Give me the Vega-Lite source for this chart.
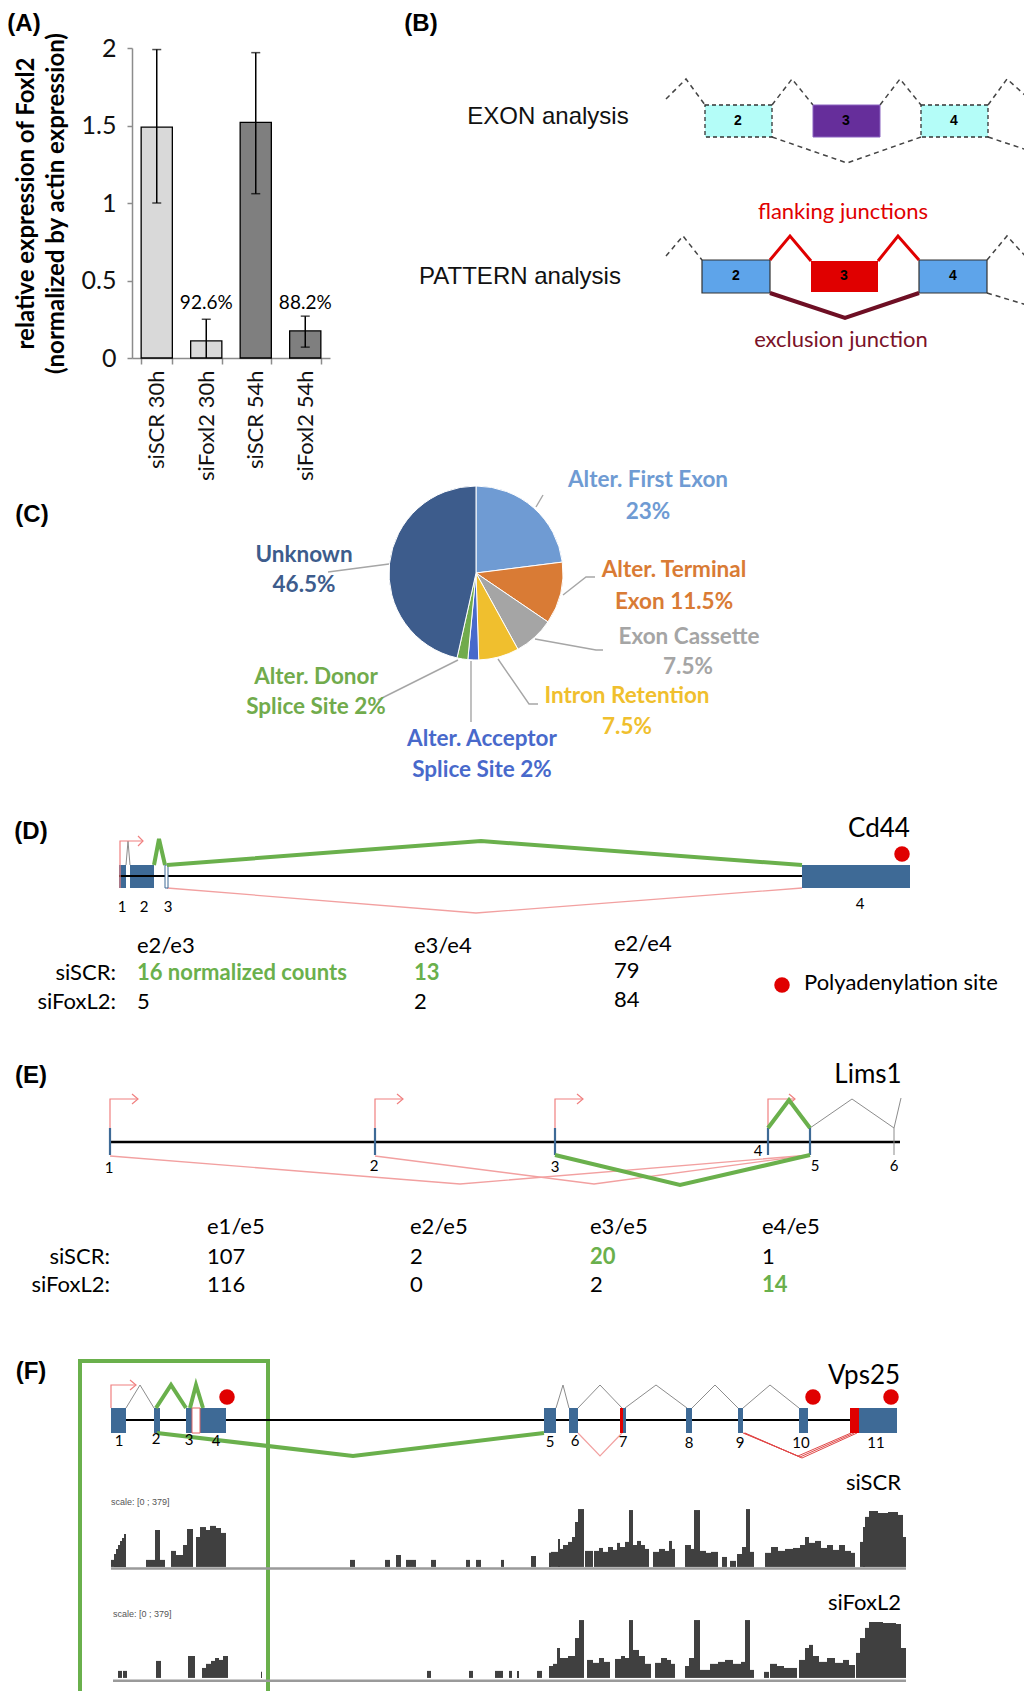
{
"$schema":"https://vega.github.io/schema/vega-lite/v6.json",
"padding":0,
"background":"white",
"spacing":0,
"bounds":"flush",
"resolve":{"scale":{"color":"independent"}},
"config":{"view":{"stroke":null},"text":{"font":"Lato","color":"#000"},
 "axisY":{"titleFont":"Lato","titleFontWeight":"bold","titleFontSize":24,"titleColor":"#000"}},
"datasets":{
"hdr":[{"t":"(A)","x":21,"y":24},{"t":"(B)","x":418,"y":24}],
"A":[
{"cond":"siSCR 30h","time":"30h","value":1.49,"lo":1.0,"hi":1.99,"pct":""},
{"cond":"siFoxl2 30h","time":"30h","value":0.11,"lo":0,"hi":0.25,"pct":"92.6%"},
{"cond":"siSCR 54h","time":"54h","value":1.52,"lo":1.06,"hi":1.97,"pct":""},
{"cond":"siFoxl2 54h","time":"54h","value":0.175,"lo":0.07,"hi":0.27,"pct":"88.2%"}],
"B_rects":[
{"kind":"cyan","x":374,"x2":441,"y":57,"y2":89},
{"kind":"cyan","x":590,"x2":657,"y":57,"y2":89},
{"kind":"purple","x":482,"x2":549,"y":57,"y2":89},
{"kind":"blue","x":371,"x2":439,"y":212,"y2":245},
{"kind":"blue","x":588,"x2":656,"y":212,"y2":245},
{"kind":"red","x":480,"x2":547,"y":213,"y2":244}],
"B_lines":[
{"kind":"dash","seg":"d1","ord":0,"x":335,"y":51},{"kind":"dash","seg":"d1","ord":1,"x":355,"y":31},{"kind":"dash","seg":"d1","ord":2,"x":374,"y":57},
{"kind":"dash","seg":"d2","ord":0,"x":441,"y":57},{"kind":"dash","seg":"d2","ord":1,"x":461,"y":31},{"kind":"dash","seg":"d2","ord":2,"x":482,"y":57},
{"kind":"dash","seg":"d3","ord":0,"x":549,"y":57},{"kind":"dash","seg":"d3","ord":1,"x":569,"y":31},{"kind":"dash","seg":"d3","ord":2,"x":590,"y":57},
{"kind":"dash","seg":"d4","ord":0,"x":657,"y":57},{"kind":"dash","seg":"d4","ord":1,"x":676,"y":31},{"kind":"dash","seg":"d4","ord":2,"x":696,"y":49},
{"kind":"dash","seg":"d5","ord":0,"x":441,"y":89},{"kind":"dash","seg":"d5","ord":1,"x":516,"y":115},{"kind":"dash","seg":"d5","ord":2,"x":590,"y":89},
{"kind":"dash","seg":"d6","ord":0,"x":657,"y":89},{"kind":"dash","seg":"d6","ord":1,"x":696,"y":102},
{"kind":"dash","seg":"d7","ord":0,"x":335,"y":208},{"kind":"dash","seg":"d7","ord":1,"x":352,"y":188},{"kind":"dash","seg":"d7","ord":2,"x":371,"y":212},
{"kind":"dash","seg":"d8","ord":0,"x":656,"y":212},{"kind":"dash","seg":"d8","ord":1,"x":676,"y":188},{"kind":"dash","seg":"d8","ord":2,"x":696,"y":210},
{"kind":"dash","seg":"d9","ord":0,"x":656,"y":245},{"kind":"dash","seg":"d9","ord":1,"x":696,"y":257},
{"kind":"flank","seg":"f1","ord":0,"x":439,"y":212},{"kind":"flank","seg":"f1","ord":1,"x":459,"y":188},{"kind":"flank","seg":"f1","ord":2,"x":480,"y":213},
{"kind":"flank","seg":"f2","ord":0,"x":547,"y":213},{"kind":"flank","seg":"f2","ord":1,"x":567,"y":188},{"kind":"flank","seg":"f2","ord":2,"x":588,"y":212},
{"kind":"excl","seg":"e1","ord":0,"x":439,"y":245},{"kind":"excl","seg":"e1","ord":1,"x":514,"y":270},{"kind":"excl","seg":"e1","ord":2,"x":588,"y":245}],
"B_text":[
{"role":"title","t":"EXON analysis","x":217,"y":69},
{"role":"title","t":"PATTERN analysis","x":189,"y":229},
{"role":"flank","t":"flanking junctions","x":512,"y":164},
{"role":"excl","t":"exclusion junction","x":510,"y":292},
{"role":"num","t":"2","x":407,"y":73},{"role":"num","t":"3","x":515,"y":73},{"role":"num","t":"4","x":623,"y":73},
{"role":"num","t":"2","x":405,"y":228},{"role":"num","t":"3","x":513,"y":228},{"role":"num","t":"4","x":622,"y":228}],
"C_slices":[
{"cat":"Alter. First Exon","pct":23,"i":1},
{"cat":"Alter. Terminal Exon","pct":11.5,"i":2},
{"cat":"Exon Cassette","pct":7.5,"i":3},
{"cat":"Intron Retention","pct":7.5,"i":4},
{"cat":"Alter. Acceptor Splice Site","pct":2,"i":5},
{"cat":"Alter. Donor Splice Site","pct":2,"i":6},
{"cat":"Unknown","pct":46.5,"i":7}],
"C_labels":[
{"cat":"Alter. First Exon","t":"Alter. First Exon","x":172,"y":-93},
{"cat":"Alter. First Exon","t":"23%","x":172,"y":-61},
{"cat":"Alter. Terminal Exon","t":"Alter. Terminal","x":198,"y":-3},
{"cat":"Alter. Terminal Exon","t":"Exon 11.5%","x":198,"y":29},
{"cat":"Exon Cassette","t":"Exon Cassette","x":213,"y":64},
{"cat":"Exon Cassette","t":"7.5%","x":212,"y":94},
{"cat":"Intron Retention","t":"Intron Retention","x":151,"y":123},
{"cat":"Intron Retention","t":"7.5%","x":151,"y":154},
{"cat":"Alter. Acceptor Splice Site","t":"Alter. Acceptor","x":6,"y":166},
{"cat":"Alter. Acceptor Splice Site","t":"Splice Site 2%","x":6,"y":197},
{"cat":"Alter. Donor Splice Site","t":"Alter. Donor","x":-160,"y":104},
{"cat":"Alter. Donor Splice Site","t":"Splice Site 2%","x":-160,"y":134},
{"cat":"Unknown","t":"Unknown","x":-172,"y":-18},
{"cat":"Unknown","t":"46.5%","x":-172,"y":12}],
"C_lines":[
{"seg":"l1","ord":0,"x":60,"y":-66},{"seg":"l1","ord":1,"x":67,"y":-78},
{"seg":"l2","ord":0,"x":87,"y":22},{"seg":"l2","ord":1,"x":110,"y":4},{"seg":"l2","ord":2,"x":119,"y":4},
{"seg":"l3","ord":0,"x":59,"y":66},{"seg":"l3","ord":1,"x":120,"y":77},{"seg":"l3","ord":2,"x":127,"y":77},
{"seg":"l4","ord":0,"x":22,"y":86},{"seg":"l4","ord":1,"x":53,"y":131},{"seg":"l4","ord":2,"x":62,"y":131},
{"seg":"l5","ord":0,"x":-5,"y":88},{"seg":"l5","ord":1,"x":-5,"y":149},
{"seg":"l6","ord":0,"x":-18,"y":87},{"seg":"l6","ord":1,"x":-98,"y":127},
{"seg":"l7","ord":0,"x":-87,"y":-9},{"seg":"l7","ord":1,"x":-148,"y":-1}],
"C_panel":[{"t":"(C)","x":-444,"y":-58}],
"D_rects":[
{"kind":"exon","x":116,"x2":123,"y":77,"y2":100},
{"kind":"exon","x":127,"x2":151,"y":77,"y2":100},
{"kind":"exon","x":799,"x2":907,"y":77,"y2":100},
{"kind":"open","x":162,"x2":165,"y":77,"y2":100}],
"D_lines":[
{"kind":"backbone","seg":"b","ord":0,"x":116,"y":88},{"kind":"backbone","seg":"b","ord":1,"x":799,"y":88},
{"kind":"pink","seg":"p1","ord":0,"x":164,"y":100},{"kind":"pink","seg":"p1","ord":1,"x":473,"y":125},{"kind":"pink","seg":"p1","ord":2,"x":799,"y":100},
{"kind":"gray","seg":"g1","ord":0,"x":123,"y":77},{"kind":"gray","seg":"g1","ord":1,"x":125,"y":53},{"kind":"gray","seg":"g1","ord":2,"x":127,"y":77},
{"kind":"tss","seg":"t1","ord":0,"x":117,"y":100},{"kind":"tss","seg":"t1","ord":1,"x":117,"y":53},{"kind":"tss","seg":"t1","ord":2,"x":140,"y":53},
{"kind":"tss","seg":"t2","ord":0,"x":135,"y":48},{"kind":"tss","seg":"t2","ord":1,"x":140,"y":53},{"kind":"tss","seg":"t2","ord":2,"x":135,"y":58},
{"kind":"green","seg":"j1","ord":0,"x":151,"y":77},{"kind":"green","seg":"j1","ord":1,"x":156,"y":51},{"kind":"green","seg":"j1","ord":2,"x":162,"y":77},
{"kind":"green","seg":"j2","ord":0,"x":164,"y":77},{"kind":"green","seg":"j2","ord":1,"x":478,"y":53},{"kind":"green","seg":"j2","ord":2,"x":799,"y":77}],
"D_dots":[{"x":899,"y":66},{"x":779,"y":197}],
"D_text":[
{"role":"panel","t":"(D)","x":28,"y":44},
{"role":"gene","t":"Cd44","x":876,"y":41},
{"role":"num","t":"1","x":119,"y":119},{"role":"num","t":"2","x":141,"y":119},{"role":"num","t":"3","x":165,"y":119},{"role":"num","t":"4","x":857,"y":116},
{"role":"left","t":"e2/e3","x":134,"y":158},{"role":"left","t":"e3/e4","x":411,"y":158},{"role":"left","t":"e2/e4","x":611,"y":156},
{"role":"right","t":"siSCR:","x":113,"y":185},{"role":"right","t":"siFoxL2:","x":113,"y":214},
{"role":"hi","t":"16 normalized counts","x":134,"y":185},{"role":"hi","t":"13","x":411,"y":185},
{"role":"left","t":"79","x":611,"y":183},
{"role":"left","t":"5","x":134,"y":214},{"role":"left","t":"2","x":411,"y":214},{"role":"left","t":"84","x":611,"y":212},
{"role":"left","t":"Polyadenylation site","x":801,"y":195}],
"E_lines":[
{"kind":"backbone","seg":"b","ord":0,"x":107,"y":102},{"kind":"backbone","seg":"b","ord":1,"x":897,"y":102},
{"kind":"pink","seg":"p1","ord":0,"x":107,"y":116},{"kind":"pink","seg":"p1","ord":1,"x":457,"y":144},{"kind":"pink","seg":"p1","ord":2,"x":807,"y":115},
{"kind":"pink","seg":"p2","ord":0,"x":372,"y":116},{"kind":"pink","seg":"p2","ord":1,"x":591,"y":144},{"kind":"pink","seg":"p2","ord":2,"x":807,"y":115},
{"kind":"tick","seg":"k1","ord":0,"x":107,"y":88},{"kind":"tick","seg":"k1","ord":1,"x":107,"y":115},
{"kind":"tick","seg":"k2","ord":0,"x":372,"y":88},{"kind":"tick","seg":"k2","ord":1,"x":372,"y":115},
{"kind":"tick","seg":"k3","ord":0,"x":552,"y":88},{"kind":"tick","seg":"k3","ord":1,"x":552,"y":115},
{"kind":"tick","seg":"k4","ord":0,"x":765,"y":88},{"kind":"tick","seg":"k4","ord":1,"x":765,"y":115},
{"kind":"tick","seg":"k5","ord":0,"x":807,"y":88},{"kind":"tick","seg":"k5","ord":1,"x":807,"y":115},
{"kind":"gray","seg":"k6","ord":0,"x":891,"y":88},{"kind":"gray","seg":"k6","ord":1,"x":891,"y":115},
{"kind":"gray","seg":"g1","ord":0,"x":807,"y":88},{"kind":"gray","seg":"g1","ord":1,"x":849,"y":59},{"kind":"gray","seg":"g1","ord":2,"x":891,"y":88},
{"kind":"gray","seg":"g2","ord":0,"x":891,"y":88},{"kind":"gray","seg":"g2","ord":1,"x":898,"y":58},
{"kind":"tss","seg":"s1","ord":0,"x":107,"y":88},{"kind":"tss","seg":"s1","ord":1,"x":107,"y":59},{"kind":"tss","seg":"s1","ord":2,"x":135,"y":59},
{"kind":"tss","seg":"h1","ord":0,"x":129,"y":54},{"kind":"tss","seg":"h1","ord":1,"x":135,"y":59},{"kind":"tss","seg":"h1","ord":2,"x":129,"y":64},
{"kind":"tss","seg":"s2","ord":0,"x":372,"y":88},{"kind":"tss","seg":"s2","ord":1,"x":372,"y":59},{"kind":"tss","seg":"s2","ord":2,"x":400,"y":59},
{"kind":"tss","seg":"h2","ord":0,"x":394,"y":54},{"kind":"tss","seg":"h2","ord":1,"x":400,"y":59},{"kind":"tss","seg":"h2","ord":2,"x":394,"y":64},
{"kind":"tss","seg":"s3","ord":0,"x":552,"y":88},{"kind":"tss","seg":"s3","ord":1,"x":552,"y":59},{"kind":"tss","seg":"s3","ord":2,"x":580,"y":59},
{"kind":"tss","seg":"h3","ord":0,"x":574,"y":54},{"kind":"tss","seg":"h3","ord":1,"x":580,"y":59},{"kind":"tss","seg":"h3","ord":2,"x":574,"y":64},
{"kind":"tss","seg":"s4","ord":0,"x":765,"y":88},{"kind":"tss","seg":"s4","ord":1,"x":765,"y":59},{"kind":"tss","seg":"s4","ord":2,"x":792,"y":59},
{"kind":"tss","seg":"h4","ord":0,"x":786,"y":54},{"kind":"tss","seg":"h4","ord":1,"x":792,"y":59},{"kind":"tss","seg":"h4","ord":2,"x":786,"y":64},
{"kind":"green","seg":"j1","ord":0,"x":765,"y":88},{"kind":"green","seg":"j1","ord":1,"x":786,"y":60},{"kind":"green","seg":"j1","ord":2,"x":807,"y":88},
{"kind":"green","seg":"j2","ord":0,"x":552,"y":115},{"kind":"green","seg":"j2","ord":1,"x":677,"y":145},{"kind":"green","seg":"j2","ord":2,"x":807,"y":115}],
"E_text":[
{"role":"panel","t":"(E)","x":28,"y":36},
{"role":"gene","t":"Lims1","x":865,"y":35},
{"role":"num","t":"1","x":106,"y":128},{"role":"num","t":"2","x":371,"y":126},{"role":"num","t":"3","x":552,"y":127},{"role":"num","t":"4","x":755,"y":111},{"role":"num","t":"5","x":812,"y":126},{"role":"num","t":"6","x":891,"y":126},
{"role":"left","t":"e1/e5","x":204,"y":187},{"role":"left","t":"e2/e5","x":407,"y":187},{"role":"left","t":"e3/e5","x":587,"y":187},{"role":"left","t":"e4/e5","x":759,"y":187},
{"role":"right","t":"siSCR:","x":107,"y":217},{"role":"right","t":"siFoxL2:","x":107,"y":245},
{"role":"left","t":"107","x":204,"y":217},{"role":"left","t":"2","x":407,"y":217},{"role":"hi","t":"20","x":587,"y":217},{"role":"left","t":"1","x":759,"y":217},
{"role":"left","t":"116","x":204,"y":245},{"role":"left","t":"0","x":407,"y":245},{"role":"left","t":"2","x":587,"y":245},{"role":"hi","t":"14","x":759,"y":245}],
"F1_rects":[
{"kind":"exon","x":108,"x2":123,"y":108,"y2":133},
{"kind":"exon","x":151,"x2":157,"y":108,"y2":133},
{"kind":"exon","x":183,"x2":189,"y":108,"y2":133},
{"kind":"exon","x":197,"x2":223,"y":108,"y2":133},
{"kind":"exon","x":541,"x2":553,"y":108,"y2":133},
{"kind":"exon","x":566,"x2":575,"y":108,"y2":133},
{"kind":"exon","x":620,"x2":623,"y":108,"y2":133},
{"kind":"exon","x":683,"x2":689,"y":108,"y2":133},
{"kind":"exon","x":735,"x2":740,"y":108,"y2":133},
{"kind":"exon","x":796,"x2":805,"y":108,"y2":133},
{"kind":"exon","x":856,"x2":894,"y":108,"y2":133},
{"kind":"redx","x":617,"x2":620,"y":108,"y2":133},
{"kind":"redx","x":847,"x2":856,"y":108,"y2":133},
{"kind":"open","x":189,"x2":197,"y":108,"y2":133},
{"kind":"box","x":77,"x2":265,"y":61,"y2":200}],
"F1_lines":[
{"kind":"backbone","seg":"b","ord":0,"x":108,"y":120},{"kind":"backbone","seg":"b","ord":1,"x":894,"y":120},
{"kind":"tss","seg":"s1","ord":0,"x":108,"y":108},{"kind":"tss","seg":"s1","ord":1,"x":108,"y":85},{"kind":"tss","seg":"s1","ord":2,"x":133,"y":85},
{"kind":"tss","seg":"h1","ord":0,"x":127,"y":80},{"kind":"tss","seg":"h1","ord":1,"x":133,"y":85},{"kind":"tss","seg":"h1","ord":2,"x":127,"y":90},
{"kind":"gray","seg":"g1","ord":0,"x":123,"y":108},{"kind":"gray","seg":"g1","ord":1,"x":137,"y":85},{"kind":"gray","seg":"g1","ord":2,"x":151,"y":108},
{"kind":"gray","seg":"g2","ord":0,"x":553,"y":108},{"kind":"gray","seg":"g2","ord":1,"x":560,"y":85},{"kind":"gray","seg":"g2","ord":2,"x":566,"y":108},
{"kind":"gray","seg":"g3","ord":0,"x":575,"y":108},{"kind":"gray","seg":"g3","ord":1,"x":597,"y":85},{"kind":"gray","seg":"g3","ord":2,"x":619,"y":108},
{"kind":"gray","seg":"g4","ord":0,"x":622,"y":108},{"kind":"gray","seg":"g4","ord":1,"x":653,"y":85},{"kind":"gray","seg":"g4","ord":2,"x":684,"y":108},
{"kind":"gray","seg":"g5","ord":0,"x":689,"y":108},{"kind":"gray","seg":"g5","ord":1,"x":712,"y":85},{"kind":"gray","seg":"g5","ord":2,"x":735,"y":108},
{"kind":"gray","seg":"g6","ord":0,"x":740,"y":108},{"kind":"gray","seg":"g6","ord":1,"x":767,"y":85},{"kind":"gray","seg":"g6","ord":2,"x":796,"y":108},
{"kind":"pink","seg":"p1","ord":0,"x":575,"y":133},{"kind":"pink","seg":"p1","ord":1,"x":597,"y":156},{"kind":"pink","seg":"p1","ord":2,"x":619,"y":133},
{"kind":"red","seg":"r1","ord":0,"x":740,"y":133},{"kind":"red","seg":"r1","ord":1,"x":795,"y":156},{"kind":"red","seg":"r1","ord":2,"x":848,"y":133},
{"kind":"red","seg":"r2","ord":0,"x":741,"y":133},{"kind":"red","seg":"r2","ord":1,"x":797,"y":157},{"kind":"red","seg":"r2","ord":2,"x":851,"y":133},
{"kind":"red","seg":"r3","ord":0,"x":742,"y":133},{"kind":"red","seg":"r3","ord":1,"x":799,"y":158},{"kind":"red","seg":"r3","ord":2,"x":854,"y":133},
{"kind":"green","seg":"j1","ord":0,"x":153,"y":108},{"kind":"green","seg":"j1","ord":1,"x":168,"y":85},{"kind":"green","seg":"j1","ord":2,"x":183,"y":108},
{"kind":"green","seg":"j2","ord":0,"x":187,"y":108},{"kind":"green","seg":"j2","ord":1,"x":193,"y":85},{"kind":"green","seg":"j2","ord":2,"x":200,"y":108},
{"kind":"green","seg":"j3","ord":0,"x":154,"y":133},{"kind":"green","seg":"j3","ord":1,"x":350,"y":156},{"kind":"green","seg":"j3","ord":2,"x":541,"y":133}],
"F1_dots":[{"x":224,"y":97},{"x":810,"y":97},{"x":888,"y":97}],
"F1_text":[
{"role":"panel","t":"(F)","x":28,"y":72},
{"role":"gene","t":"Vps25","x":861,"y":76},
{"role":"num","t":"1","x":116,"y":141},{"role":"num","t":"2","x":153,"y":139},{"role":"num","t":"3","x":186,"y":140},{"role":"num","t":"4","x":213,"y":141},
{"role":"num","t":"5","x":547,"y":142},{"role":"num","t":"6","x":572,"y":141},{"role":"num","t":"7","x":620,"y":142},{"role":"num","t":"8","x":686,"y":143},
{"role":"num","t":"9","x":737,"y":143},{"role":"num","t":"10","x":798,"y":143},{"role":"num","t":"11","x":873,"y":143}],
"boxsides":[{"x":77},{"x":265}],
"cov1":[
{"x":108,"x2":111,"r":43},{"x":111,"x2":113,"r":79},{"x":113,"x2":115,"r":110},{"x":115,"x2":117,"r":134},{"x":117,"x2":119,"r":159},{"x":119,"x2":121,"r":177},{"x":121,"x2":123,"r":202},
{"x":143,"x2":148,"r":43},{"x":148,"x2":152,"r":43},{"x":152,"x2":157,"r":226},{"x":157,"x2":162,"r":43},
{"x":168,"x2":173,"r":98},{"x":173,"x2":180,"r":73},{"x":180,"x2":184,"r":134},{"x":184,"x2":190,"r":232},
{"x":193,"x2":197,"r":183},{"x":197,"x2":203,"r":244},{"x":203,"x2":207,"r":226},{"x":207,"x2":213,"r":251},{"x":213,"x2":218,"r":238},{"x":218,"x2":223,"r":208},
{"x":347,"x2":352,"r":43},{"x":382,"x2":387,"r":43},{"x":393,"x2":398,"r":73},{"x":403,"x2":408,"r":43},{"x":408,"x2":413,"r":43},{"x":428,"x2":433,"r":43},{"x":463,"x2":467,"r":43},{"x":473,"x2":478,"r":43},{"x":498,"x2":501,"r":43},{"x":528,"x2":533,"r":67},
{"x":546,"x2":548,"r":86},{"x":548,"x2":555,"r":92},{"x":555,"x2":557,"r":171},{"x":557,"x2":560,"r":110},{"x":560,"x2":565,"r":134},{"x":565,"x2":569,"r":153},{"x":569,"x2":572,"r":183},{"x":572,"x2":575,"r":275},{"x":575,"x2":581,"r":354},
{"x":582,"x2":590,"r":98},
{"x":591,"x2":596,"r":98},{"x":596,"x2":600,"r":116},{"x":600,"x2":605,"r":92},{"x":605,"x2":610,"r":122},{"x":610,"x2":614,"r":104},{"x":614,"x2":617,"r":147},{"x":617,"x2":622,"r":122},{"x":622,"x2":626,"r":153},{"x":626,"x2":630,"r":348},{"x":630,"x2":634,"r":134},{"x":634,"x2":638,"r":159},{"x":638,"x2":642,"r":134},{"x":642,"x2":646,"r":110},
{"x":650,"x2":656,"r":92},{"x":656,"x2":662,"r":110},{"x":662,"x2":666,"r":98},{"x":666,"x2":669,"r":159},{"x":669,"x2":672,"r":110},
{"x":682,"x2":688,"r":134},{"x":688,"x2":691,"r":110},{"x":691,"x2":697,"r":348},{"x":697,"x2":703,"r":98},{"x":703,"x2":708,"r":86},{"x":708,"x2":715,"r":92},
{"x":719,"x2":724,"r":61},{"x":727,"x2":733,"r":37},{"x":734,"x2":739,"r":79},{"x":739,"x2":743,"r":122},{"x":743,"x2":747,"r":354},{"x":747,"x2":751,"r":92},
{"x":762,"x2":768,"r":86},{"x":768,"x2":775,"r":122},{"x":775,"x2":782,"r":98},{"x":782,"x2":790,"r":110},{"x":790,"x2":797,"r":116},{"x":797,"x2":802,"r":134},{"x":802,"x2":806,"r":183},{"x":806,"x2":812,"r":147},{"x":812,"x2":818,"r":159},{"x":818,"x2":824,"r":116},{"x":824,"x2":830,"r":134},{"x":830,"x2":836,"r":104},{"x":836,"x2":842,"r":134},{"x":842,"x2":848,"r":98},{"x":848,"x2":852,"r":86},
{"x":857,"x2":860,"r":153},{"x":860,"x2":862,"r":244},{"x":862,"x2":866,"r":306},{"x":866,"x2":875,"r":342},{"x":875,"x2":885,"r":330},{"x":885,"x2":895,"r":336},{"x":895,"x2":900,"r":318},{"x":900,"x2":903,"r":183}],
"cov2":[
{"x":115,"x2":119,"r":43},{"x":120,"x2":124,"r":43},
{"x":153,"x2":158,"r":104},
{"x":185,"x2":192,"r":134},
{"x":199,"x2":203,"r":61},{"x":203,"x2":208,"r":86},{"x":208,"x2":212,"r":104},{"x":212,"x2":216,"r":122},{"x":216,"x2":220,"r":110},{"x":220,"x2":225,"r":134},
{"x":258,"x2":259,"r":37},
{"x":424,"x2":428,"r":43},{"x":466,"x2":470,"r":43},{"x":492,"x2":500,"r":43},{"x":506,"x2":509,"r":43},{"x":514,"x2":516,"r":43},{"x":534,"x2":539,"r":43},
{"x":546,"x2":550,"r":73},{"x":550,"x2":554,"r":86},{"x":554,"x2":557,"r":183},{"x":557,"x2":565,"r":122},{"x":565,"x2":572,"r":134},{"x":572,"x2":576,"r":244},{"x":576,"x2":581,"r":354},
{"x":584,"x2":590,"r":110},{"x":590,"x2":596,"r":92},{"x":596,"x2":601,"r":122},{"x":601,"x2":607,"r":98},
{"x":612,"x2":618,"r":116},{"x":618,"x2":622,"r":134},{"x":622,"x2":626,"r":122},{"x":626,"x2":630,"r":354},{"x":630,"x2":636,"r":171},{"x":636,"x2":642,"r":134},{"x":642,"x2":648,"r":86},
{"x":652,"x2":658,"r":92},{"x":658,"x2":664,"r":122},{"x":664,"x2":668,"r":110},{"x":668,"x2":672,"r":86},
{"x":682,"x2":686,"r":73},{"x":686,"x2":691,"r":122},{"x":691,"x2":697,"r":354},{"x":697,"x2":707,"r":49},{"x":707,"x2":715,"r":86},{"x":715,"x2":722,"r":98},{"x":722,"x2":730,"r":110},{"x":730,"x2":738,"r":86},{"x":738,"x2":742,"r":98},{"x":742,"x2":747,"r":354},{"x":747,"x2":751,"r":49},
{"x":761,"x2":766,"r":37},{"x":767,"x2":774,"r":86},{"x":774,"x2":781,"r":73},{"x":781,"x2":794,"r":61},
{"x":796,"x2":802,"r":110},{"x":802,"x2":806,"r":183},{"x":806,"x2":810,"r":202},{"x":810,"x2":816,"r":134},{"x":816,"x2":824,"r":98},{"x":824,"x2":832,"r":122},{"x":832,"x2":840,"r":92},{"x":840,"x2":846,"r":110},{"x":846,"x2":852,"r":79},
{"x":853,"x2":857,"r":153},{"x":857,"x2":862,"r":244},{"x":862,"x2":866,"r":306},{"x":866,"x2":880,"r":342},{"x":880,"x2":893,"r":336},{"x":893,"x2":898,"r":330},{"x":898,"x2":903,"r":183}],
"F2_base":[{"x":108,"x2":903,"r":-10}],
"F3_base":[{"x":110,"x2":903,"r":-18}],
"F2_text":[{"role":"right","t":"siSCR","x":898,"r":513},{"role":"small","t":"scale: [0 ; 379]","x":108,"r":397}],
"F3_text":[{"role":"right","t":"siFoxL2","x":898,"r":458},{"role":"small","t":"scale: [0 ; 379]","x":110,"r":391}]
},
"vconcat":[
{"width":1024,"height":48,"data":{"name":"hdr"},
 "mark":{"type":"text","font":"Liberation Sans","fontWeight":"bold","fontSize":24,"align":"center","baseline":"middle"},
 "encoding":{"x":{"field":"x","type":"quantitative","scale":{"domain":[0,1024],"nice":false},"axis":null},
  "y":{"field":"y","type":"quantitative","scale":{"domain":[0,48],"reverse":true,"nice":false},"axis":null},
  "text":{"field":"t"}}},
{"hconcat":[
 {"width":128,"height":310,"data":{"values":[{"a":0}]},"mark":{"type":"point","opacity":0}},
 {"width":198,"height":310,"data":{"name":"A"},
  "encoding":{"x":{"field":"cond","type":"nominal","sort":null,"scale":{"paddingInner":0.37,"paddingOuter":0.185},
   "axis":{"title":null,"labelAngle":-90,"labelFont":"Lato","labelFontSize":22,"labelColor":"#111","labelPadding":6,"domainColor":"#8c8c8c","domainWidth":1.5,"tickColor":"#8c8c8c","tickWidth":1.5,"tickSize":6,"tickBand":"extent"}}},
  "layer":[
   {"mark":{"type":"bar","stroke":"#000","strokeWidth":1.3},
    "encoding":{"y":{"field":"value","type":"quantitative","scale":{"domain":[0,2]},
      "axis":{"title":["relative expression of Foxl2","(normalized by actin expression)"],"titleFont":"Lato","titleFontSize":24,"titleFontWeight":"bold","titleColor":"#000","titleLineHeight":30,"titlePadding":13,
       "values":[0,0.5,1,1.5,2],"format":"~g","grid":false,"labelFont":"Lato","labelFontSize":25,"labelColor":"#111","labelPadding":11,"domainColor":"#8c8c8c","domainWidth":1.5,"tickColor":"#8c8c8c","tickWidth":1.5,"tickSize":5}},
     "color":{"field":"time","type":"nominal","scale":{"domain":["30h","54h"],"range":["#d9d9d9","#7f7f7f"]},"legend":null}}},
   {"mark":{"type":"rule","color":"#000","strokeWidth":1.5},"encoding":{"y":{"field":"lo","type":"quantitative"},"y2":{"field":"hi"}}},
   {"mark":{"type":"tick","color":"#000","thickness":1.5,"size":9},"encoding":{"y":{"field":"hi","type":"quantitative"}}},
   {"transform":[{"filter":"datum.lo > 0"}],"mark":{"type":"tick","color":"#000","thickness":1.5,"size":9},"encoding":{"y":{"field":"lo","type":"quantitative"}}},
   {"transform":[{"filter":"datum.pct !== ''"}],"mark":{"type":"text","font":"Lato","fontSize":19,"color":"#000","baseline":"middle"},"encoding":{"y":{"datum":0.355},"text":{"field":"pct"}}}
  ]},
 {"width":696,"height":310,
  "encoding":{"x":{"field":"x","type":"quantitative","scale":{"domain":[0,696],"nice":false},"axis":null},
   "y":{"field":"y","type":"quantitative","scale":{"domain":[0,310],"reverse":true,"nice":false},"axis":null}},
  "layer":[
   {"data":{"name":"B_lines"},"transform":[{"filter":"datum.kind==='dash'"}],"mark":{"type":"line","color":"#444","strokeWidth":1.5,"strokeDash":[5,4]},"encoding":{"detail":{"field":"seg"},"order":{"field":"ord","type":"quantitative"}}},
   {"data":{"name":"B_rects"},"transform":[{"filter":"datum.kind==='cyan'"}],"mark":{"type":"rect","fill":"#b4fdf8","stroke":"#333","strokeWidth":1.3,"strokeDash":[4,3]},"encoding":{"x2":{"field":"x2"},"y2":{"field":"y2"}}},
   {"data":{"name":"B_rects"},"transform":[{"filter":"datum.kind==='purple'"}],"mark":{"type":"rect","fill":"#662e9b","stroke":"#8a62c0","strokeWidth":1},"encoding":{"x2":{"field":"x2"},"y2":{"field":"y2"}}},
   {"data":{"name":"B_rects"},"transform":[{"filter":"datum.kind==='blue'"}],"mark":{"type":"rect","fill":"#5ea4ea","stroke":"#333","strokeWidth":1.2},"encoding":{"x2":{"field":"x2"},"y2":{"field":"y2"}}},
   {"data":{"name":"B_rects"},"transform":[{"filter":"datum.kind==='red'"}],"mark":{"type":"rect","fill":"#e00000"},"encoding":{"x2":{"field":"x2"},"y2":{"field":"y2"}}},
   {"data":{"name":"B_lines"},"transform":[{"filter":"datum.kind==='flank'"}],"mark":{"type":"line","color":"#e00000","strokeWidth":3},"encoding":{"detail":{"field":"seg"},"order":{"field":"ord","type":"quantitative"}}},
   {"data":{"name":"B_lines"},"transform":[{"filter":"datum.kind==='excl'"}],"mark":{"type":"line","color":"#6e0f24","strokeWidth":4},"encoding":{"detail":{"field":"seg"},"order":{"field":"ord","type":"quantitative"}}},
   {"data":{"name":"B_text"},"transform":[{"filter":"datum.role==='title'"}],"mark":{"type":"text","font":"Liberation Sans","fontSize":24,"align":"center","baseline":"middle","color":"#111"},"encoding":{"text":{"field":"t"}}},
   {"data":{"name":"B_text"},"transform":[{"filter":"datum.role==='flank'"}],"mark":{"type":"text","font":"Lato","fontSize":22,"align":"center","baseline":"middle","color":"#e00000"},"encoding":{"text":{"field":"t"}}},
   {"data":{"name":"B_text"},"transform":[{"filter":"datum.role==='excl'"}],"mark":{"type":"text","font":"Lato","fontSize":22,"align":"center","baseline":"middle","color":"#7b1228"},"encoding":{"text":{"field":"t"}}},
   {"data":{"name":"B_text"},"transform":[{"filter":"datum.role==='num'"}],"mark":{"type":"text","font":"Liberation Sans","fontWeight":"bold","fontSize":14,"align":"center","baseline":"middle","color":"#000"},"encoding":{"text":{"field":"t"}}}
  ]}
 ],"spacing":1,"bounds":"flush"},
{"width":1,"height":310,"data":{"values":[{"a":0}]},"mark":{"type":"point","opacity":0}},
{"width":946,"height":430,
 "layer":[
  {"data":{"name":"C_slices"},"mark":{"type":"arc","outerRadius":87,"stroke":"#fff","strokeWidth":1},
   "encoding":{"theta":{"field":"pct","type":"quantitative","stack":true},"order":{"field":"i","type":"quantitative"},
    "color":{"field":"cat","type":"nominal","scale":{"domain":["Alter. First Exon","Alter. Terminal Exon","Exon Cassette","Intron Retention","Alter. Acceptor Splice Site","Alter. Donor Splice Site","Unknown"],"range":["#6f9bd3","#d97b35","#a5a5a5","#f0bf2e","#4869cb","#71ab4c","#3d5c8c"]},"legend":null}}},
  {"data":{"name":"C_lines"},"mark":{"type":"line","color":"#a6a6a6","strokeWidth":1.4},
   "encoding":{"x":{"field":"x","type":"quantitative","scale":{"domain":[-473,473],"nice":false},"axis":null},"y":{"field":"y","type":"quantitative","scale":{"domain":[-215,215],"reverse":true,"nice":false},"axis":null},"detail":{"field":"seg"},"order":{"field":"ord","type":"quantitative"}}},
  {"data":{"name":"C_labels"},"mark":{"type":"text","font":"Lato","fontWeight":"bold","fontSize":22.5,"align":"center","baseline":"middle"},
   "encoding":{"x":{"field":"x","type":"quantitative","scale":{"domain":[-473,473],"nice":false},"axis":null},"y":{"field":"y","type":"quantitative","scale":{"domain":[-215,215],"reverse":true,"nice":false},"axis":null},"text":{"field":"t"},"color":{"field":"cat","type":"nominal","legend":null}}},
  {"data":{"name":"C_panel"},"mark":{"type":"text","font":"Liberation Sans","fontWeight":"bold","fontSize":24,"align":"center","baseline":"middle","color":"#000"},
   "encoding":{"x":{"field":"x","type":"quantitative","scale":{"domain":[-473,473],"nice":false},"axis":null},"y":{"field":"y","type":"quantitative","scale":{"domain":[-215,215],"reverse":true,"nice":false},"axis":null},"text":{"field":"t"}}}
 ]},
{"width":1024,"height":252,
 "encoding":{"x":{"field":"x","type":"quantitative","scale":{"domain":[0,1024],"nice":false},"axis":null},
  "y":{"field":"y","type":"quantitative","scale":{"domain":[0,252],"reverse":true,"nice":false},"axis":null}},
 "layer":[
  {"data":{"name":"D_lines"},"transform":[{"filter":"datum.kind==='pink'"}],"mark":{"type":"line","color":"#f2a0a0","strokeWidth":1.3},"encoding":{"detail":{"field":"seg"},"order":{"field":"ord","type":"quantitative"}}},
  {"data":{"name":"D_rects"},"transform":[{"filter":"datum.kind==='exon'"}],"mark":{"type":"rect","fill":"#3e6a96"},"encoding":{"x2":{"field":"x2"},"y2":{"field":"y2"}}},
  {"data":{"name":"D_lines"},"transform":[{"filter":"datum.kind==='backbone'"}],"mark":{"type":"line","color":"#000","strokeWidth":2},"encoding":{"detail":{"field":"seg"},"order":{"field":"ord","type":"quantitative"}}},
  {"data":{"name":"D_rects"},"transform":[{"filter":"datum.kind==='open'"}],"mark":{"type":"rect","fill":"#fff","stroke":"#3e6a96","strokeWidth":1},"encoding":{"x2":{"field":"x2"},"y2":{"field":"y2"}}},
  {"data":{"name":"D_lines"},"transform":[{"filter":"datum.kind==='gray'"}],"mark":{"type":"line","color":"#8c8c8c","strokeWidth":1},"encoding":{"detail":{"field":"seg"},"order":{"field":"ord","type":"quantitative"}}},
  {"data":{"name":"D_lines"},"transform":[{"filter":"datum.kind==='tss'"}],"mark":{"type":"line","color":"#f08080","strokeWidth":1.2},"encoding":{"detail":{"field":"seg"},"order":{"field":"ord","type":"quantitative"}}},
  {"data":{"name":"D_lines"},"transform":[{"filter":"datum.kind==='green'"}],"mark":{"type":"line","color":"#6ab04c","strokeWidth":4},"encoding":{"detail":{"field":"seg"},"order":{"field":"ord","type":"quantitative"}}},
  {"data":{"name":"D_dots"},"mark":{"type":"circle","size":240,"color":"#e00000","opacity":1}},
  {"data":{"name":"D_text"},"transform":[{"filter":"datum.role==='panel'"}],"mark":{"type":"text","font":"Liberation Sans","fontWeight":"bold","fontSize":24,"align":"center","baseline":"middle"},"encoding":{"text":{"field":"t"}}},
  {"data":{"name":"D_text"},"transform":[{"filter":"datum.role==='gene'"}],"mark":{"type":"text","font":"Lato","fontSize":26,"align":"center","baseline":"middle"},"encoding":{"text":{"field":"t"}}},
  {"data":{"name":"D_text"},"transform":[{"filter":"datum.role==='num'"}],"mark":{"type":"text","font":"Lato","fontSize":15,"align":"center","baseline":"middle"},"encoding":{"text":{"field":"t"}}},
  {"data":{"name":"D_text"},"transform":[{"filter":"datum.role==='left'"}],"mark":{"type":"text","font":"Lato","fontSize":22,"align":"left","baseline":"middle"},"encoding":{"text":{"field":"t"}}},
  {"data":{"name":"D_text"},"transform":[{"filter":"datum.role==='right'"}],"mark":{"type":"text","font":"Lato","fontSize":22,"align":"right","baseline":"middle"},"encoding":{"text":{"field":"t"}}},
  {"data":{"name":"D_text"},"transform":[{"filter":"datum.role==='hi'"}],"mark":{"type":"text","font":"Lato","fontWeight":"bold","fontSize":22,"align":"left","baseline":"middle","color":"#6ab04c"},"encoding":{"text":{"field":"t"}}}
 ]},
{"width":1024,"height":260,
 "encoding":{"x":{"field":"x","type":"quantitative","scale":{"domain":[0,1024],"nice":false},"axis":null},
  "y":{"field":"y","type":"quantitative","scale":{"domain":[0,260],"reverse":true,"nice":false},"axis":null}},
 "layer":[
  {"data":{"name":"E_lines"},"transform":[{"filter":"datum.kind==='pink'"}],"mark":{"type":"line","color":"#f2a0a0","strokeWidth":1.3},"encoding":{"detail":{"field":"seg"},"order":{"field":"ord","type":"quantitative"}}},
  {"data":{"name":"E_lines"},"transform":[{"filter":"datum.kind==='backbone'"}],"mark":{"type":"line","color":"#000","strokeWidth":2.5},"encoding":{"detail":{"field":"seg"},"order":{"field":"ord","type":"quantitative"}}},
  {"data":{"name":"E_lines"},"transform":[{"filter":"datum.kind==='gray'"}],"mark":{"type":"line","color":"#8c8c8c","strokeWidth":1},"encoding":{"detail":{"field":"seg"},"order":{"field":"ord","type":"quantitative"}}},
  {"data":{"name":"E_lines"},"transform":[{"filter":"datum.kind==='tss'"}],"mark":{"type":"line","color":"#f08080","strokeWidth":1.2},"encoding":{"detail":{"field":"seg"},"order":{"field":"ord","type":"quantitative"}}},
  {"data":{"name":"E_lines"},"transform":[{"filter":"datum.kind==='tick'"}],"mark":{"type":"line","color":"#3e6a96","strokeWidth":2.2},"encoding":{"detail":{"field":"seg"},"order":{"field":"ord","type":"quantitative"}}},
  {"data":{"name":"E_lines"},"transform":[{"filter":"datum.kind==='green'"}],"mark":{"type":"line","color":"#6ab04c","strokeWidth":4},"encoding":{"detail":{"field":"seg"},"order":{"field":"ord","type":"quantitative"}}},
  {"data":{"name":"E_text"},"transform":[{"filter":"datum.role==='panel'"}],"mark":{"type":"text","font":"Liberation Sans","fontWeight":"bold","fontSize":24,"align":"center","baseline":"middle"},"encoding":{"text":{"field":"t"}}},
  {"data":{"name":"E_text"},"transform":[{"filter":"datum.role==='gene'"}],"mark":{"type":"text","font":"Lato","fontSize":26,"align":"center","baseline":"middle"},"encoding":{"text":{"field":"t"}}},
  {"data":{"name":"E_text"},"transform":[{"filter":"datum.role==='num'"}],"mark":{"type":"text","font":"Lato","fontSize":15,"align":"center","baseline":"middle"},"encoding":{"text":{"field":"t"}}},
  {"data":{"name":"E_text"},"transform":[{"filter":"datum.role==='left'"}],"mark":{"type":"text","font":"Lato","fontSize":22,"align":"left","baseline":"middle"},"encoding":{"text":{"field":"t"}}},
  {"data":{"name":"E_text"},"transform":[{"filter":"datum.role==='right'"}],"mark":{"type":"text","font":"Lato","fontSize":22,"align":"right","baseline":"middle"},"encoding":{"text":{"field":"t"}}},
  {"data":{"name":"E_text"},"transform":[{"filter":"datum.role==='hi'"}],"mark":{"type":"text","font":"Lato","fontWeight":"bold","fontSize":22,"align":"left","baseline":"middle","color":"#6ab04c"},"encoding":{"text":{"field":"t"}}}
 ]},
{"width":1024,"height":170,
 "encoding":{"x":{"field":"x","type":"quantitative","scale":{"domain":[0,1024],"nice":false},"axis":null},
  "y":{"field":"y","type":"quantitative","scale":{"domain":[0,170],"reverse":true,"nice":false},"axis":null}},
 "layer":[
  {"data":{"name":"F1_rects"},"transform":[{"filter":"datum.kind==='box'"}],"mark":{"type":"rect","fillOpacity":0,"stroke":"#6ab04c","strokeWidth":4,"clip":true},"encoding":{"x2":{"field":"x2"},"y2":{"field":"y2"}}},
  {"data":{"name":"F1_lines"},"transform":[{"filter":"datum.kind==='backbone'"}],"mark":{"type":"line","color":"#000","strokeWidth":2},"encoding":{"detail":{"field":"seg"},"order":{"field":"ord","type":"quantitative"}}},
  {"data":{"name":"F1_lines"},"transform":[{"filter":"datum.kind==='gray'"}],"mark":{"type":"line","color":"#8c8c8c","strokeWidth":1},"encoding":{"detail":{"field":"seg"},"order":{"field":"ord","type":"quantitative"}}},
  {"data":{"name":"F1_lines"},"transform":[{"filter":"datum.kind==='pink'"}],"mark":{"type":"line","color":"#f2a0a0","strokeWidth":1.2},"encoding":{"detail":{"field":"seg"},"order":{"field":"ord","type":"quantitative"}}},
  {"data":{"name":"F1_lines"},"transform":[{"filter":"datum.kind==='red'"}],"mark":{"type":"line","color":"#e04848","strokeWidth":1},"encoding":{"detail":{"field":"seg"},"order":{"field":"ord","type":"quantitative"}}},
  {"data":{"name":"F1_lines"},"transform":[{"filter":"datum.kind==='tss'"}],"mark":{"type":"line","color":"#f08080","strokeWidth":1.2},"encoding":{"detail":{"field":"seg"},"order":{"field":"ord","type":"quantitative"}}},
  {"data":{"name":"F1_rects"},"transform":[{"filter":"datum.kind==='exon'"}],"mark":{"type":"rect","fill":"#3e6a96"},"encoding":{"x2":{"field":"x2"},"y2":{"field":"y2"}}},
  {"data":{"name":"F1_rects"},"transform":[{"filter":"datum.kind==='redx'"}],"mark":{"type":"rect","fill":"#e00000"},"encoding":{"x2":{"field":"x2"},"y2":{"field":"y2"}}},
  {"data":{"name":"F1_rects"},"transform":[{"filter":"datum.kind==='open'"}],"mark":{"type":"rect","fill":"#fff","stroke":"#e06666","strokeWidth":1},"encoding":{"x2":{"field":"x2"},"y2":{"field":"y2"}}},
  {"data":{"name":"F1_lines"},"transform":[{"filter":"datum.kind==='green'"}],"mark":{"type":"line","color":"#6ab04c","strokeWidth":4},"encoding":{"detail":{"field":"seg"},"order":{"field":"ord","type":"quantitative"}}},
  {"data":{"name":"F1_dots"},"mark":{"type":"circle","size":240,"color":"#e00000","opacity":1}},
  {"data":{"name":"F1_text"},"transform":[{"filter":"datum.role==='panel'"}],"mark":{"type":"text","font":"Liberation Sans","fontWeight":"bold","fontSize":24,"align":"center","baseline":"middle"},"encoding":{"text":{"field":"t"}}},
  {"data":{"name":"F1_text"},"transform":[{"filter":"datum.role==='gene'"}],"mark":{"type":"text","font":"Lato","fontSize":26,"align":"center","baseline":"middle"},"encoding":{"text":{"field":"t"}}},
  {"data":{"name":"F1_text"},"transform":[{"filter":"datum.role==='num'"}],"mark":{"type":"text","font":"Lato","fontSize":15,"align":"center","baseline":"middle"},"encoding":{"text":{"field":"t"}}}
 ]},
{"width":1024,"height":110,
 "layer":[
  {"data":{"name":"boxsides"},"mark":{"type":"rule","color":"#6ab04c","strokeWidth":4},"encoding":{"x":{"field":"x","type":"quantitative","scale":{"domain":[0,1024],"nice":false},"axis":null}}},
  {"data":{"name":"F2_base"},"mark":{"type":"rule","color":"#9a9a9a","strokeWidth":2.5},"encoding":{"x":{"field":"x","type":"quantitative","scale":{"domain":[0,1024],"nice":false},"axis":null},"x2":{"field":"x2"},"y":{"field":"r","type":"quantitative","scale":{"domain":[-80,593],"nice":false},"axis":null}}},
  {"data":{"name":"cov1"},"mark":{"type":"rect","fill":"#404040"},"encoding":{"x":{"field":"x","type":"quantitative","scale":{"domain":[0,1024],"nice":false},"axis":null},"x2":{"field":"x2"},"y":{"field":"r","type":"quantitative","scale":{"domain":[-80,593],"nice":false},"axis":null},"y2":{"datum":0}}},
  {"data":{"name":"F2_text"},"transform":[{"filter":"datum.role==='right'"}],"mark":{"type":"text","font":"Lato","fontSize":22,"align":"right","baseline":"middle"},"encoding":{"x":{"field":"x","type":"quantitative","scale":{"domain":[0,1024],"nice":false},"axis":null},"y":{"field":"r","type":"quantitative","scale":{"domain":[-80,593],"nice":false},"axis":null},"text":{"field":"t"}}},
  {"data":{"name":"F2_text"},"transform":[{"filter":"datum.role==='small'"}],"mark":{"type":"text","font":"Liberation Sans","fontSize":9,"align":"left","baseline":"middle","color":"#555"},"encoding":{"x":{"field":"x","type":"quantitative","scale":{"domain":[0,1024],"nice":false},"axis":null},"y":{"field":"r","type":"quantitative","scale":{"domain":[-80,593],"nice":false},"axis":null},"text":{"field":"t"}}}
 ]},
{"width":1024,"height":111,
 "layer":[
  {"data":{"name":"boxsides"},"mark":{"type":"rule","color":"#6ab04c","strokeWidth":4},"encoding":{"x":{"field":"x","type":"quantitative","scale":{"domain":[0,1024],"nice":false},"axis":null}}},
  {"data":{"name":"F3_base"},"mark":{"type":"rule","color":"#9a9a9a","strokeWidth":2.5},"encoding":{"x":{"field":"x","type":"quantitative","scale":{"domain":[0,1024],"nice":false},"axis":null},"x2":{"field":"x2"},"y":{"field":"r","type":"quantitative","scale":{"domain":[-80,599],"nice":false},"axis":null}}},
  {"data":{"name":"cov2"},"mark":{"type":"rect","fill":"#404040"},"encoding":{"x":{"field":"x","type":"quantitative","scale":{"domain":[0,1024],"nice":false},"axis":null},"x2":{"field":"x2"},"y":{"field":"r","type":"quantitative","scale":{"domain":[-80,599],"nice":false},"axis":null},"y2":{"datum":0}}},
  {"data":{"name":"F3_text"},"transform":[{"filter":"datum.role==='right'"}],"mark":{"type":"text","font":"Lato","fontSize":22,"align":"right","baseline":"middle"},"encoding":{"x":{"field":"x","type":"quantitative","scale":{"domain":[0,1024],"nice":false},"axis":null},"y":{"field":"r","type":"quantitative","scale":{"domain":[-80,599],"nice":false},"axis":null},"text":{"field":"t"}}},
  {"data":{"name":"F3_text"},"transform":[{"filter":"datum.role==='small'"}],"mark":{"type":"text","font":"Liberation Sans","fontSize":9,"align":"left","baseline":"middle","color":"#555"},"encoding":{"x":{"field":"x","type":"quantitative","scale":{"domain":[0,1024],"nice":false},"axis":null},"y":{"field":"r","type":"quantitative","scale":{"domain":[-80,599],"nice":false},"axis":null},"text":{"field":"t"}}}
 ]}
]
}
